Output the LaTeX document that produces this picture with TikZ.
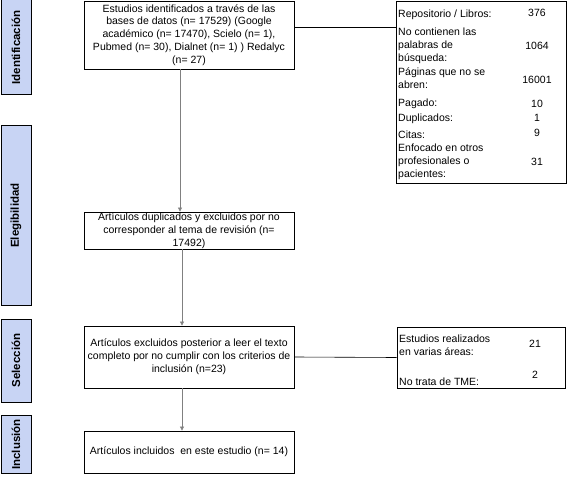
\documentclass[tikz,border=0pt]{standalone}
\usepackage{fontspec}
\setmainfont{Liberation Sans}
\usetikzlibrary{arrows.meta}
\definecolor{phasefill}{RGB}{200,212,244}
\begin{document}
\begin{tikzpicture}[x=1pt,y=-1pt,
    sidebox/.style={draw, line width=1pt, fill=phasefill, rotate=90,
        minimum height=30pt, font=\fontsize{11.5}{13}\selectfont\bfseries},
    mainbox/.style={draw, line width=0.8pt, minimum width=210pt, align=center,
        inner sep=0pt, font=\fontsize{10.5}{12.8}\selectfont},
    listbox/.style={draw, line width=0.8pt},
    lbl/.style={anchor=west, inner sep=0pt, align=left,
        font=\fontsize{10.5}{12.8}\selectfont},
    num/.style={inner sep=0pt, font=\fontsize{10.5}{12}\selectfont},
    flow/.style={gray, line width=0.6pt, -{Triangle[length=4pt,width=4pt]}}]
\useasboundingbox (0,0) rectangle (567,489);
% Phases
\node[sidebox, minimum width=95pt] (ident) at (16,47.5) {Identificación};
\node[sidebox, minimum width=179pt] (eleg) at (16,215.5) {Elegibilidad};
\node[sidebox, minimum width=83pt] (selec) at (16,360.5) {Selección};
\node[sidebox, minimum width=57pt] (incl) at (16,444.5) {Inclusión};
% Main flow
\node[mainbox, minimum height=68pt] (found) at (189,35)
    {Estudios identificados a través de las\\bases de datos (n= 17529) (Google\\
     académico (n= 17470), Scielo (n= 1),\\Pubmed (n= 30), Dialnet (n= 1) ) Redalyc\\(n= 27)};
\node[mainbox, minimum height=37pt] (dupl) at (189,230.5)
    {Artículos duplicados y excluidos por no\\corresponder al tema de revisión (n=\\17492)};
\node[mainbox, minimum height=62pt] (excl) at (189,357)
    {Artículos excluidos posterior a leer el texto\\completo por no cumplir con los criterios de\\inclusión (n=23)};
\node[mainbox, minimum height=42pt] (incd) at (189,452)
    {Artículos incluidos\ \ en este estudio (n= 14)};
\draw[flow] ([xshift=-9pt]found.south) -- ([xshift=-9pt]dupl.north);
\draw[flow] ([xshift=-7pt]dupl.south) -- ([xshift=-7pt]excl.north);
\draw[flow] ([xshift=-7pt]excl.south) -- ([xshift=-7pt]incd.north);
% Removed records
\node[listbox, minimum width=170pt, minimum height=182pt] (removed) at (481,92) {};
\node[lbl] (repo) at (398,15) {Repositorio / Libros:};
\node[lbl] (words) at (398,46) {No contienen las\\palabras de\\búsqueda:};
\node[lbl] (pages) at (398,78) {Páginas que no se\\abren:};
\node[lbl] (paid) at (398,104) {Pagado:};
\node[lbl] (dup) at (398,119) {Duplicados:};
\node[lbl] (cites) at (398,135) {Citas:};
\node[lbl] (others) at (398,162) {Enfocado en otros\\profesionales o\\pacientes:};
\node[num] at (537,13) {376};
\node[num] at (537,46) {1064};
\node[num] at (537,80) {16001};
\node[num] at (537,104) {10};
\node[num] at (537,118) {1};
\node[num] at (537,133) {9};
\node[num] at (537,162) {31};
\draw[line width=0.6pt] ([yshift=8pt]found.east) -- ([yshift=8pt]found.east -| removed.west);
% Excluded after reading
\node[listbox, minimum width=168pt, minimum height=61pt] (later) at (481,357.5) {};
\node[lbl] (areas) at (399,345) {Estudios realizados\\en varias áreas:};
\node[lbl] (tme) at (399,382) {No trata de TME:};
\node[num] at (535,344) {21};
\node[num] at (535,375) {2};
\draw[line width=0.6pt] (excl.east) -- (later.west);
\end{tikzpicture}
\end{document}
